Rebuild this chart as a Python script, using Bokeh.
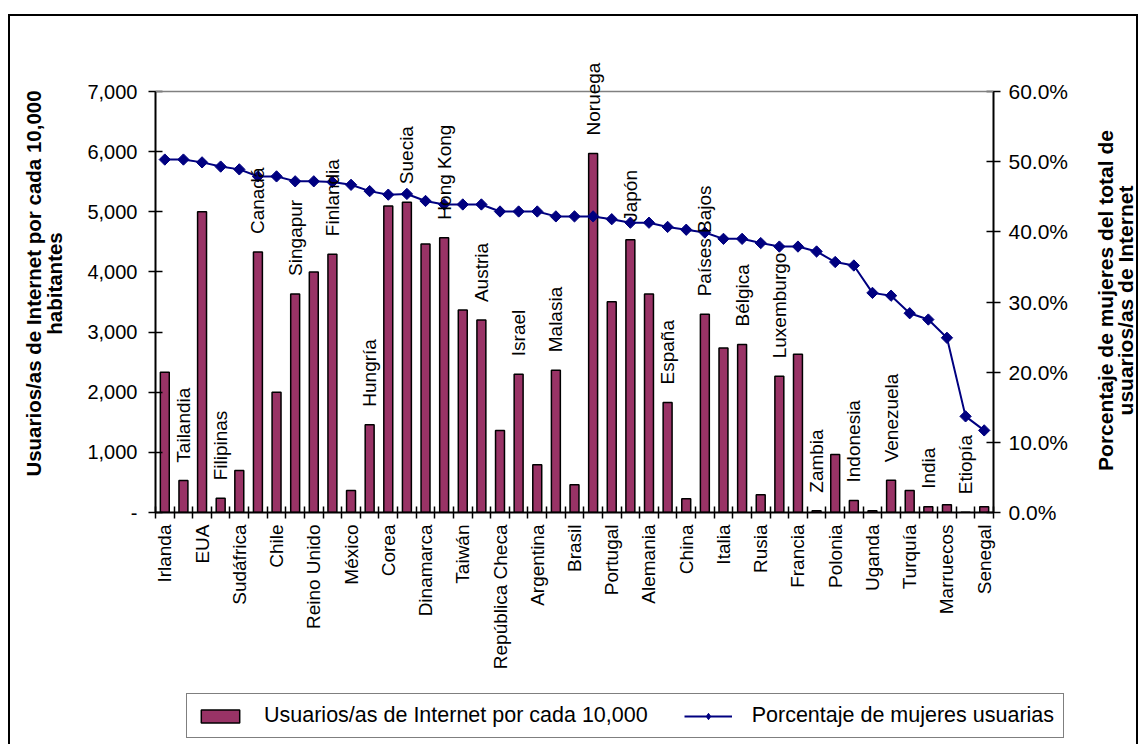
import math
from bokeh.plotting import figure
from bokeh.layouts import row, column
from bokeh.models import (Range1d, LinearAxis, FixedTicker, NumeralTickFormatter,
                          PrintfTickFormatter, ColumnDataSource, LabelSet, Label, Span,
                          Legend, LegendItem)
from bokeh.core.properties import value
from bokeh.embed import file_html
from bokeh.resources import INLINE

countries = ["Irlanda", "Tailandia", "EUA", "Filipinas", "Sudáfrica", "Canadá", "Chile",
             "Singapur", "Reino Unido", "Finlandia", "México", "Hungría", "Corea", "Suecia",
             "Dinamarca", "Hong Kong", "Taiwán", "Austria", "República Checa", "Israel",
             "Argentina", "Malasia", "Brasil", "Noruega", "Portugal", "Japón", "Alemania",
             "España", "China", "Países Bajos", "Italia", "Bélgica", "Rusia", "Luxemburgo",
             "Francia", "Zambia", "Polonia", "Indonesia", "Uganda", "Venezuela", "Turquía",
             "India", "Marruecos", "Etiopía", "Senegal"]

users_per_10000 = [2330, 530, 5000, 235, 700, 4330, 2000, 3635, 4000, 4295, 365, 1460, 5095,
                   5160, 4465, 4570, 3365, 3200, 1365, 2300, 795, 2365, 460, 5970, 3505, 4535,
                   3635, 1830, 230, 3295, 2735, 2795, 295, 2265, 2630, 30, 965, 200, 30, 535,
                   365, 95, 130, 5, 95]

women_pct = [50.3, 50.3, 49.9, 49.3, 48.9, 47.9, 47.9, 47.2, 47.2, 47.1, 46.7, 45.8, 45.3,
             45.4, 44.4, 43.9, 43.9, 43.9, 42.9, 42.9, 42.9, 42.2, 42.2, 42.2, 41.8, 41.3,
             41.3, 40.7, 40.3, 39.9, 39.0, 39.0, 38.4, 37.9, 37.9, 37.2, 35.7, 35.2, 31.3,
             30.9, 28.4, 27.5, 24.9, 13.7, 11.7]

left_ticks = [0, 1000, 2000, 3000, 4000, 5000, 6000, 7000]
right_ticks = [0, 10, 20, 30, 40, 50, 60]

bar_label = "Usuarios/as de Internet por cada 10,000"
line_label = "Porcentaje de mujeres usuarias"
left_title = ["Usuarios/as de Internet por cada 10,000", "habitantes"]
right_title = ["Porcentaje de mujeres del total de", "usuarios/as de Internet"]

FONT = "Liberation Sans"
BAR_FILL = "#993366"
LINE_COL = "#000080"
n = len(countries)
xs = [i + 0.5 for i in range(n)]

LEFT_MAX, RIGHT_MAX = 7000, 60
FRAME_TOP, AXIS_TOP, AXIS_BOTTOM = 58, 91, 512
HEAD = (AXIS_BOTTOM - FRAME_TOP) / (AXIS_BOTTOM - AXIS_TOP)   # room above 7,000 for labels


def blank(width, height, shadow):
    f = figure(width=width, height=height, x_range=Range1d(0, 1), y_range=Range1d(0, 1),
               x_axis_location=None, y_axis_location=None, min_border=0,
               output_backend="svg", toolbar_location=None)
    f.grid.visible = False
    f.outline_line_color = None
    f.border_fill_color = None
    f.background_fill_color = None
    f.styles = {"box-shadow": shadow}
    return f


# ---------------- main chart ----------------
p = figure(width=1010, height=690, x_range=Range1d(0, n),
           y_range=Range1d(0, LEFT_MAX * HEAD),
           output_backend="svg", toolbar_location=None,
           min_border_left=80, min_border_right=92, min_border_top=FRAME_TOP,
           min_border_bottom=690 - AXIS_BOTTOM)
p.border_fill_color = None
p.background_fill_color = None
p.outline_line_color = None
p.grid.visible = False
p.styles = {"box-shadow": "inset 0 14px 0 0 white, inset 0 16px 0 0 black"}
p.extra_y_ranges = {"pct": Range1d(0, RIGHT_MAX * HEAD)}

p.add_layout(Span(location=LEFT_MAX, dimension="width", line_color="#808080",
                  line_width=1.5))

ya = p.yaxis[0]
ya.ticker = FixedTicker(ticks=left_ticks)
ya.formatter = NumeralTickFormatter(format="0,0")
ya.major_label_overrides = {0: "-"}
ya.bounds = (0, LEFT_MAX)

ra = LinearAxis(y_range_name="pct", ticker=FixedTicker(ticks=right_ticks),
                formatter=PrintfTickFormatter(format="%.1f%%"))
ra.bounds = (0, RIGHT_MAX)
p.add_layout(ra, "right")

for ax, standoff in ((ya, 11), (ra, 8)):
    ax.major_tick_in = 7
    ax.major_tick_out = 7
    ax.minor_tick_line_color = None
    ax.major_label_standoff = standoff

xa = p.xaxis[0]
even_x = [xs[i] for i in range(0, n, 2)]
xa.ticker = FixedTicker(ticks=even_x, minor_ticks=list(range(n + 1)))
xa.major_label_overrides = {xs[i]: countries[i] for i in range(0, n, 2)}
xa.major_tick_in = 0
xa.major_tick_out = 0
xa.minor_tick_in = 6
xa.minor_tick_out = 6
xa.major_label_orientation = math.pi / 2
xa.major_label_standoff = 6

for ax in (ya, ra, xa):
    ax.axis_line_color = "black"
    ax.axis_line_width = 2
    ax.major_tick_line_color = "black"
    ax.major_tick_line_width = 1.5
    ax.major_label_text_font = FONT
    ax.major_label_text_color = "black"
ya.major_label_text_font_size = "20px"
ra.major_label_text_font_size = "21px"
xa.major_label_text_font_size = "19px"
xa.minor_tick_line_color = "black"
xa.minor_tick_line_width = 1.5

src = ColumnDataSource(dict(x=xs, users=users_per_10000, pct=women_pct, country=countries))
bar_style = dict(width=0.48, fill_color=BAR_FILL, line_color="black", line_width=1.5)
line_style = dict(line_color=LINE_COL, line_width=2)

p.vbar(x="x", top="users", source=src, **bar_style)
p.line(x="x", y="pct", source=src, y_range_name="pct", **line_style)
p.scatter(x="x", y="pct", source=src, y_range_name="pct", marker="square",
          angle=math.pi / 4, size=8, fill_color=LINE_COL, line_color=LINE_COL)

odd = list(range(1, n, 2))
lab_src = ColumnDataSource(dict(x=[xs[i] for i in odd],
                                y=[users_per_10000[i] for i in odd],
                                text=[countries[i] for i in odd]))
p.add_layout(LabelSet(x="x", y="y", text="text", source=lab_src, angle=math.pi / 2,
                      text_align="left", text_baseline="middle", y_offset=18,
                      text_font=value(FONT), text_font_size=value("19px"),
                      text_color="black"))

# ---------------- axis titles (frames of the side strips align with the chart frame) ----
fl = blank(75, 690, "inset 0 14px 0 0 white, inset 8px 0 0 0 white, "
                    "inset 0 16px 0 0 black, inset 10px 0 0 0 black")
for xpos, txt in zip((33, 54), left_title):
    fl.add_layout(Label(x=xpos, y=AXIS_BOTTOM - 283, x_units="screen", y_units="screen",
                        text=txt, angle=math.pi / 2, text_align="center",
                        text_baseline="middle", text_font=FONT, text_font_style="bold",
                        text_font_size="20.5px", text_color="black"))

fr = blank(53, 690, "inset 0 14px 0 0 white, inset 0 16px 0 0 black, "
                    "inset -2px 0 0 0 black")
for xpos, txt in zip((20, 40), right_title):
    fr.add_layout(Label(x=xpos, y=AXIS_BOTTOM - 300, x_units="screen", y_units="screen",
                        text=txt, angle=math.pi / 2, text_align="center",
                        text_baseline="middle", text_font=FONT, text_font_style="bold",
                        text_font_size="21px", text_color="black"))

# ---------------- legend strip ----------------
fb = blank(1138, 54, "inset 8px 0 0 0 white, inset 10px 0 0 0 black, "
                     "inset -2px 0 0 0 black")
leg_bar = fb.vbar(x="x", top="users", source=src, visible=False, **bar_style)
leg_line = fb.line(x="x", y="pct", source=src, visible=False, **line_style)
leg_pts = fb.scatter(x="x", y="pct", source=src, visible=False, marker="diamond",
                     size=13, fill_color=LINE_COL, line_color=LINE_COL)
legend = Legend(items=[LegendItem(label=bar_label, renderers=[leg_bar]),
                       LegendItem(label=line_label, renderers=[leg_line, leg_pts])],
                orientation="horizontal", location=(186, 6))
legend.label_text_font = FONT
legend.label_text_font_size = "21.5px"
legend.label_text_color = "black"
legend.glyph_width = 48
legend.glyph_height = 16
legend.label_standoff = 20
legend.spacing = 36
legend.padding = 9
legend.margin = 0
legend.border_line_color = "black"
legend.border_line_width = 1.5
legend.background_fill_color = "white"
legend.background_fill_alpha = 1.0
legend.inactive_fill_alpha = 0.0
fb.add_layout(legend)

layout = column(row(fl, p, fr, spacing=0), fb, spacing=0)
open("out.html", "w").write(file_html(layout, INLINE))
